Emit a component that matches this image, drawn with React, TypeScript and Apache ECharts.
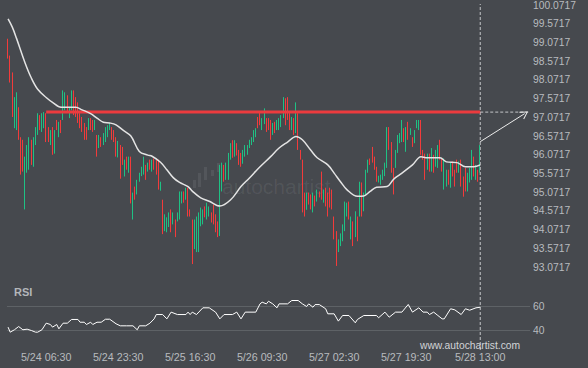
import React, { useEffect, useRef } from "react";
import * as echarts from "echarts";

// [open, high, low, close] per 30-minute candle
const candles: number[][] = [
  [99.10,99.17,98.64,98.70],[98.70,98.72,98.00,98.10],[98.10,98.27,97.08,97.15],[96.90,97.61,96.78,97.50],
  [97.00,97.74,96.73,97.60],[97.30,97.34,96.47,96.55],[96.50,96.54,95.54,95.65],[96.40,96.47,95.62,95.70],
  [94.80,96.02,94.61,95.90],[95.65,96.33,95.59,96.25],[95.75,96.54,95.67,96.45],[96.45,96.47,95.80,95.90],
  [95.85,96.54,95.75,96.45],[96.40,96.81,96.33,96.75],[96.70,97.18,96.60,97.10],[97.10,97.13,96.73,96.80],
  [96.80,97.18,96.68,97.10],[96.85,97.21,96.78,97.15],[97.15,97.18,96.41,96.50],[96.75,96.81,96.41,96.45],
  [96.40,96.73,96.33,96.65],[96.75,96.81,96.07,96.15],[96.15,96.73,96.10,96.65],[97.00,97.00,96.73,96.78],
  [96.58,96.95,96.54,96.90],[96.95,97.00,96.65,96.70],[97.05,97.79,97.00,97.70],[97.30,97.74,97.26,97.68],
  [97.62,97.66,97.21,97.25],[97.10,97.34,97.05,97.30],[97.30,97.79,97.26,97.72],[97.72,97.79,97.13,97.20],
  [97.55,97.61,97.08,97.12],[97.40,97.47,96.92,96.98],[97.10,97.18,96.78,96.82],[97.05,97.08,96.68,96.72],
  [96.88,96.92,96.47,96.52],[96.78,96.81,96.47,96.50],[96.78,97.05,96.73,97.00],[97.00,97.05,96.73,96.78],
  [96.95,97.00,96.68,96.72],[96.75,97.00,96.73,96.95],[96.55,96.60,96.02,96.08],[96.30,96.60,96.25,96.55],
  [96.52,96.54,96.28,96.32],[96.35,96.65,96.33,96.60],[96.50,96.81,96.41,96.75],[96.60,96.86,96.54,96.82],
  [96.75,96.92,96.73,96.88],[96.80,96.81,96.47,96.52],[96.70,96.73,96.41,96.45],[96.50,96.54,96.02,96.08],
  [96.05,96.44,96.00,96.38],[96.30,96.33,95.43,95.50],
  [96.25,96.28,95.80,95.85],[95.55,95.94,95.49,95.88],[95.95,96.02,95.67,95.72],[95.70,96.02,95.59,95.98],
  [95.98,96.02,94.77,94.90],[94.50,95.06,94.34,94.98],[95.20,95.22,94.87,94.92],[95.05,95.40,95.01,95.35],
  [95.40,95.59,95.35,95.55],[95.55,95.75,95.50,95.70],[95.65,96.02,95.54,95.97],[95.78,95.80,95.40,95.45],
  [95.65,95.86,95.62,95.80],[95.90,95.94,95.67,95.72],[95.70,95.94,95.62,95.90],[95.92,95.97,95.67,95.72],
  [95.90,95.94,95.54,95.60],[95.88,95.94,95.14,95.20],[95.15,95.35,95.11,95.30],[94.85,94.87,93.95,94.05],
  [94.10,94.48,94.03,94.42],[94.10,94.40,94.00,94.35],[94.20,94.53,94.14,94.48],[94.55,94.61,94.00,94.08],
  [94.25,94.53,94.21,94.48],[94.30,94.34,93.87,93.95],[94.30,94.53,94.29,94.48],[94.40,95.09,94.34,95.02],
  [94.80,95.09,94.77,95.05],[95.05,95.09,94.79,94.83],[94.90,95.19,94.87,95.15],[95.15,95.19,94.42,94.50],
  [94.60,94.61,94.42,94.45],[94.30,94.34,93.15,93.30],[93.60,94.34,93.55,94.25],[93.55,94.42,93.47,94.35],
  [93.60,94.53,93.47,94.45],[94.30,94.66,94.16,94.60],[94.30,94.61,94.21,94.55],[94.65,94.69,94.40,94.45],
  [94.40,94.79,94.34,94.72],[94.50,94.69,94.42,94.65],[94.50,94.53,94.26,94.30],[94.70,94.74,94.21,94.28],
  [94.45,94.48,94.00,94.05],[94.25,94.29,93.87,93.92],[93.95,95.80,93.90,95.70],[95.10,95.86,95.09,95.80],
  [95.75,95.80,95.35,95.40],[95.45,95.86,95.40,95.80],[95.45,96.12,95.40,96.05],[95.95,96.38,95.94,96.33],
  [96.40,96.46,95.99,96.05],[96.05,96.46,96.02,96.40],[96.35,96.38,96.05,96.10],[96.15,96.20,95.80,95.85],
  [96.05,96.12,95.75,95.80],
  [95.85,96.20,95.83,96.15],[96.05,96.33,96.02,96.28],[96.10,96.33,96.07,96.30],[96.30,96.47,96.25,96.44],
  [96.38,96.54,96.33,96.50],[96.45,96.73,96.41,96.68],[96.60,96.78,96.54,96.75],[97.05,97.08,96.78,96.82],
  [97.15,97.21,96.86,96.90],[96.78,97.05,96.73,97.00],[96.92,97.31,96.89,97.26],[97.00,97.05,96.68,96.72],
  [96.98,97.05,96.73,96.78],[96.95,97.00,96.47,96.52],[96.65,96.92,96.60,96.88],[96.90,96.95,96.65,96.70],
  [96.75,97.00,96.73,96.95],[96.80,97.05,96.73,97.00],[96.90,97.13,96.81,97.08],[97.10,97.61,97.05,97.55],
  [97.55,97.58,96.86,96.92],[97.55,97.61,97.00,97.05],[97.15,97.21,96.73,96.78],[96.80,97.08,96.73,97.02],
  [97.00,97.05,96.60,96.65],[96.70,97.47,96.65,97.40],[97.15,97.18,96.20,96.28],[96.20,96.20,95.94,95.98],
  [95.90,95.94,94.53,94.65],[94.95,95.06,94.42,94.48],[94.65,95.06,94.60,95.00],[95.00,95.06,94.74,94.78],
  [94.95,95.01,94.61,94.66],[94.60,95.06,94.53,95.00],[94.95,94.98,94.69,94.74],[94.85,95.14,94.82,95.08],
  [95.05,95.09,94.93,94.96],[95.55,95.62,94.87,94.95],[94.85,95.14,94.79,95.08],[95.10,95.19,94.69,94.75],
  [94.95,95.06,94.42,94.50],[95.10,95.19,94.66,94.72],[95.05,95.14,94.61,94.68],[94.35,94.42,93.81,93.88],
  [94.00,94.03,93.10,93.20],[93.55,93.81,93.47,93.76],[93.70,93.97,93.63,93.92],[93.85,94.21,93.76,94.15],
  [94.10,94.82,94.03,94.75],[94.50,94.79,94.42,94.74],[94.78,94.82,94.34,94.40],[93.90,94.42,93.81,94.36],
  [94.25,94.29,93.63,93.70],[93.95,94.56,93.87,94.50],[94.35,94.42,93.76,93.84],[94.45,95.35,94.42,95.28],
  [95.30,95.33,94.42,94.50],[94.60,95.06,94.56,95.00],[95.05,95.67,95.00,95.60],[95.65,95.94,95.59,95.88],
  [95.92,95.97,95.80,95.83],[96.25,96.28,95.86,95.90],[95.95,96.02,95.67,95.72],[95.70,95.75,95.35,95.40],
  [95.35,95.51,95.33,95.48],[95.30,95.54,95.27,95.50],[95.45,95.67,95.40,95.62],[95.55,95.86,95.50,95.80],
  [95.80,96.81,95.72,96.75],[96.75,96.81,96.20,96.25],[96.30,96.41,95.59,95.65],[95.65,95.72,95.01,95.10],
  [95.75,96.20,95.72,96.15],[96.15,96.60,96.12,96.55],[96.40,96.65,96.38,96.60],[96.45,97.00,96.41,96.92],
  [96.75,96.78,96.41,96.45],[96.20,96.81,96.15,96.75],[96.90,96.95,96.47,96.52],[96.62,96.78,96.60,96.75],
  [96.50,96.54,96.28,96.32],[96.40,96.73,96.38,96.68],[96.80,97.00,96.78,96.95],[96.78,97.00,96.73,96.95],
  [96.95,97.00,96.07,96.15],[96.18,96.20,95.94,95.97],[96.05,96.10,95.40,95.47],[95.72,96.10,95.67,96.05],
  [96.05,96.10,95.62,95.68],[95.70,96.25,95.62,96.20],[96.00,96.07,95.59,95.65],[95.80,96.20,95.75,96.15],
  [95.78,96.33,95.72,96.28],[96.40,96.47,95.94,95.99],[95.92,95.97,95.62,95.66],[95.20,95.97,95.14,95.92],
  [95.30,95.67,95.22,95.62],[95.62,95.67,95.27,95.32],[95.30,95.86,95.19,95.80],[95.85,95.89,95.49,95.54],
  [95.60,95.67,95.22,95.28],[95.90,95.94,95.59,95.63],[95.65,95.89,95.59,95.84],[95.88,95.94,95.22,95.28],
  [95.45,95.49,94.95,95.01],[95.65,95.72,95.09,95.15],[95.20,95.59,95.09,95.52],[95.40,95.72,95.33,95.67],
  [95.45,96.20,95.40,96.15],[95.95,96.02,95.49,95.55],[95.45,95.80,95.40,95.75],[95.65,95.67,95.35,95.40],
  [95.62,96.33,95.59,96.28],
];

// moving average readings [candle index, price]
const maPoints: number[][] = [
  [0,99.70],[2,99.48],[4,99.18],[8,98.53],[11,98.12],[14,97.82],[18,97.60],[21,97.47],[25,97.34],[28,97.34],
  [32,97.34],[35,97.27],[39,97.17],[42,97.05],[45,96.94],[48,96.92],[51,96.87],[54,96.74],[58,96.57],[62,96.16],
  [66,96.06],[68,96.03],[72,95.87],[75,95.67],[78,95.46],[81,95.33],[85,95.22],[87,95.10],[91,94.92],[95,94.83],
  [100,94.70],[105,94.86],[110,95.22],[114,95.45],[119,95.75],[124,96.02],[128,96.25],[132,96.41],[136,96.56],
  [139,96.47],[143,96.19],[146,95.99],[151,95.80],[154,95.58],[157,95.35],[160,95.14],[165,94.96],[168,94.97],
  [171,95.09],[174,95.20],[179,95.22],[182,95.41],[185,95.54],[191,95.80],[195,96.02],[198,95.99],[204,95.99],
  [207,95.88],[212,95.86],[216,95.75],[220,95.75],[223,95.80],
];

// RSI readings [candle index, value]
const rsiPoints: number[][] = [
  [0,42.8],[1,38.6],[3,40.6],[5,43.3],[7,40.6],[9,41.1],[11,40.0],[13,38.6],[14,38.6],[16,40.6],[18,46.1],
  [20,45.0],[21,42.8],[23,45.0],[24,41.4],[26,46.1],[28,46.1],[30,49.2],[33,49.2],[34,46.9],[36,46.9],[37,45.0],
  [39,46.9],[40,45.0],[42,46.9],[44,46.9],[46,49.4],[48,49.4],[51,45.6],[53,43.9],[56,43.9],[59,43.9],[61,40.6],
  [62,43.9],[65,43.9],[67,46.1],[69,49.7],[70,53.3],[73,53.3],[75,49.7],[77,55.3],[80,53.3],[84,53.3],[85,55.3],
  [86,53.3],[87,55.3],[89,53.3],[92,58.9],[95,58.9],[98,55.3],[100,49.7],[102,53.3],[106,53.3],[108,55.3],
  [110,49.7],[112,55.3],[117,55.3],[119,62.2],[120,63.6],[122,62.2],[123,64.4],[125,62.2],[127,58.9],[128,62.2],
  [132,62.2],[134,65.0],[137,65.0],[139,62.2],[141,60.0],[142,62.2],[144,59.4],[145,61.6],[147,61.6],[150,58.1],
  [151,53.9],[154,53.9],[156,47.8],[158,52.5],[161,52.5],[164,46.4],[165,49.2],[168,52.5],[174,52.5],[175,50.6],
  [178,55.3],[180,51.1],[183,55.3],[186,55.3],[189,61.7],[191,55.3],[194,58.9],[196,55.3],[198,55.3],[199,53.3],
  [201,55.3],[203,52.5],[205,49.7],[206,49.7],[209,58.1],[211,57.2],[214,53.3],[216,58.1],[218,56.9],[221,58.9],
  [223,59.4],
];

const yTicks = [93.0717, 93.5717, 94.0717, 94.5717, 95.0717, 95.5717, 96.0717, 96.5717, 97.0717, 97.5717, 98.0717, 98.5717, 99.0717, 99.5717, 100.0717];
const rsiTicks = [40, 60];
const tickIndex = [18, 52, 86, 120, 154, 188, 223];
const tickLabels = ["5/24 06:30", "5/24 23:30", "5/25 16:30", "5/26 09:30", "5/27 02:30", "5/27 19:30", "5/28 13:00"];
const resistance = 97.21;
const resistanceStart = 18;
const projectionStart = 96.42;
const projectionEnd = [244, 97.17];
const SLOTS = 247;

const BG = "#46494e";
const RED = "#f23b3b";
const GREEN = "#1fc184";
const LABEL = "#b8bbbf";
const FONT = "Liberation Sans, Arial, sans-serif";
const WM = "rgba(255,255,255,0.075)";

export default function App() {
  const ref = useRef<HTMLDivElement>(null);
  useEffect(() => {
    const chart = echarts.init(ref.current!, null, { renderer: "svg" });
    const cats = Array.from({ length: SLOTS }, (_, i) => String(i));
    const last = candles.length - 1;
    const grid = { left: 7, right: 58 };
    const bar = (x: number, y: number, h: number) => ({
      type: "rect", silent: true, z: 0, shape: { x, y, width: 3, height: h }, style: { fill: WM },
    });
    const option: any = {
      animation: false,
      backgroundColor: BG,
      textStyle: { fontFamily: FONT },
      grid: [
        { ...grid, top: 5, height: 262 },
        { ...grid, top: 282.5, height: 60 },
        { ...grid, top: 4, height: 346 },
      ],
      xAxis: [
        { type: "category", gridIndex: 0, data: cats, show: false },
        {
          type: "category", gridIndex: 1, data: cats,
          axisLine: { show: false }, axisTick: { show: false }, splitLine: { show: false },
          axisLabel: {
            interval: (i: number) => tickIndex.includes(i),
            formatter: (_v: string, i: number) => tickLabels[tickIndex.indexOf(i)] ?? "",
            color: LABEL, fontSize: 10.7, margin: 9, fontFamily: FONT,
          },
        },
        { type: "category", gridIndex: 2, data: cats, show: false },
      ],
      yAxis: [
        {
          type: "value", gridIndex: 0, position: "right", min: 93.0717, max: 100.0717, scale: true,
          splitLine: { show: false }, axisLine: { show: false }, axisTick: { show: false },
          axisLabel: { customValues: yTicks, formatter: (v: number) => v.toFixed(4), color: LABEL, fontSize: 10.3, margin: 3, fontFamily: FONT },
        },
        {
          type: "value", gridIndex: 1, position: "right", min: 30, max: 80,
          splitLine: { show: false }, axisLine: { show: false }, axisTick: { show: false },
          axisLabel: { customValues: rsiTicks, formatter: (v: number) => String(Math.round(v)), color: LABEL, fontSize: 10.3, margin: 3, fontFamily: FONT },
        },
        { type: "value", gridIndex: 2, min: 0, max: 1, show: false },
      ],
      series: [
        {
          type: "line", xAxisIndex: 2, yAxisIndex: 2, data: [[last, 0], [last, 1]],
          symbol: "none", silent: true, z: 1,
          lineStyle: { color: "#c4c6c9", width: 1, type: [3, 2] },
        },
        {
          type: "candlestick", xAxisIndex: 0, yAxisIndex: 0, barWidth: 1, z: 3,
          data: candles.map(([o, h, l, c]) => [o, c, l, h]),
          itemStyle: { color: GREEN, color0: RED, borderColor: GREEN, borderColor0: RED, borderWidth: 1 },
          markLine: {
            silent: true, animation: false,
            symbol: ["none", "path://M5,0 L10,9 L9,9.6 L5,2.2 L1,9.6 L0,9 Z"],
            symbolSize: [9, 8],
            label: { show: false },
            lineStyle: { color: "#ececec", width: 1, type: "solid" },
            data: [[{ coord: [last, projectionStart] }, { coord: projectionEnd }]],
          },
        },
        {
          type: "line", xAxisIndex: 0, yAxisIndex: 0, data: [[resistanceStart, resistance], [last, resistance]],
          symbol: "none", silent: true, z: 4, lineStyle: { color: "#ec3b3e", width: 3 },
        },
        {
          type: "line", xAxisIndex: 0, yAxisIndex: 0, data: [[last, resistance], [SLOTS - 1, resistance]],
          symbol: "none", silent: true, z: 4, lineStyle: { color: "#c4c6c9", width: 1, type: [3, 2] },
        },
        {
          type: "line", xAxisIndex: 0, yAxisIndex: 0, data: maPoints, smooth: 0.35,
          symbol: "none", silent: true, z: 5, lineStyle: { color: "#e4e4e4", width: 1.5 },
        },
        {
          type: "line", xAxisIndex: 1, yAxisIndex: 1, data: rsiPoints,
          symbol: "none", silent: true, z: 5, lineStyle: { color: "#ffffff", width: 1 },
          markLine: {
            silent: true, animation: false, symbol: "none", label: { show: false },
            lineStyle: { color: "#5e6266", width: 1, type: "solid" },
            data: rsiTicks.map((v) => ({ yAxis: v })),
          },
        },
      ],
      graphic: [
        bar(193, 180, 8),
        bar(198, 173, 14),
        bar(204, 167, 13),
        bar(211, 170, 6),
        bar(217, 163, 9),
        {
          type: "text", x: 222, y: 176, silent: true, z: 0,
          style: { text: "autochartist", fill: WM, fontSize: 21, fontFamily: FONT },
        },
        {
          type: "text", x: 14, y: 286, silent: true,
          style: { text: "RSI", fill: "#b3b6ba", fontSize: 11, fontWeight: "bold", fontFamily: FONT },
        },
        {
          type: "text", x: 420, y: 340, silent: true, z: 10,
          style: { text: "www.autochartist.com", fill: "#d2d4d7", fontSize: 10.3, fontFamily: FONT },
        },
      ],
    };
    chart.setOption(option);
    return () => chart.dispose();
  }, []);
  return <div ref={ref} style={{ position: "fixed", left: 0, top: 0, width: 588, height: 368 }} />;
}
